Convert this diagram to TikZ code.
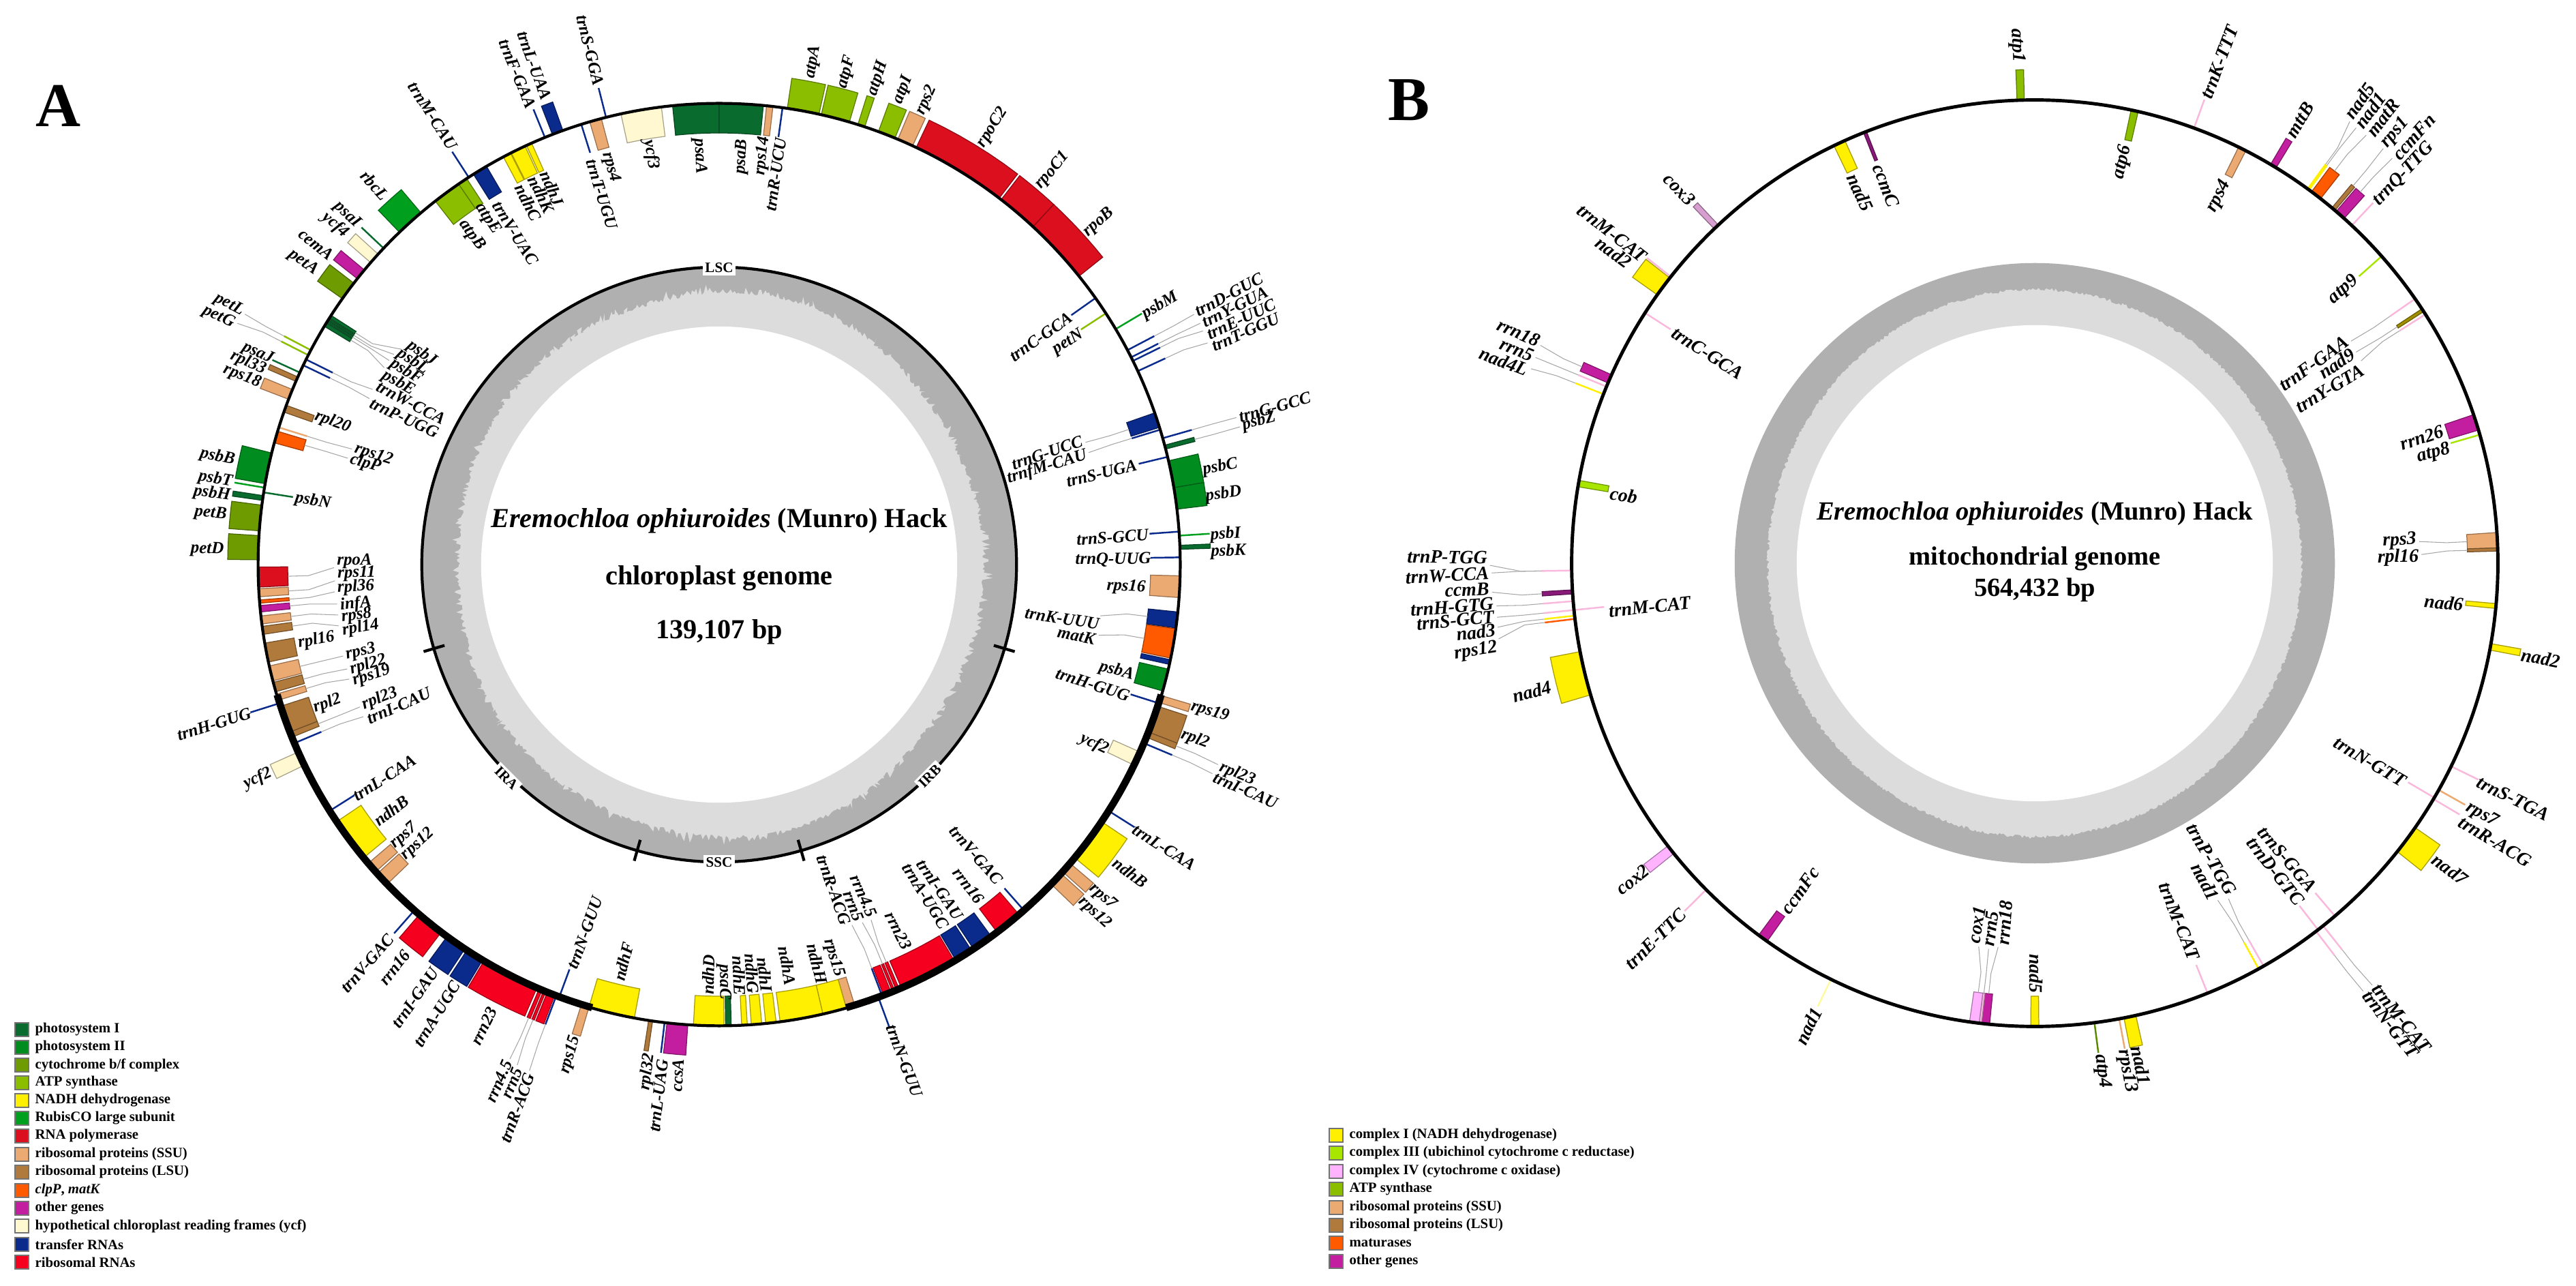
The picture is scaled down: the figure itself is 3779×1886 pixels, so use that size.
\documentclass[tikz,border=0pt]{standalone}
\usepackage{fontspec}
\setmainfont{Liberation Serif}
\definecolor{psone}{HTML}{0A6B2F}
\definecolor{pstwo}{HTML}{008C1E}
\definecolor{cytbf}{HTML}{6E9B00}
\definecolor{atpg}{HTML}{8CBE00}
\definecolor{ndhy}{HTML}{FFEF00}
\definecolor{rubis}{HTML}{00A01E}
\definecolor{rnapol}{HTML}{DB0F1E}
\definecolor{ssu}{HTML}{ECAA73}
\definecolor{lsu}{HTML}{B07A3C}
\definecolor{clpm}{HTML}{FF5A00}
\definecolor{other}{HTML}{C41EA0}
\definecolor{ycfp}{HTML}{FFF8D0}
\definecolor{trna}{HTML}{0A2A8C}
\definecolor{rrna}{HTML}{F5001E}
\definecolor{cplxthree}{HTML}{A8E600}
\definecolor{cplxfour}{HTML}{FFB3FF}
\definecolor{trnb}{HTML}{F9B8DC}
\definecolor{atpdark}{HTML}{5A8A00}
\definecolor{purpleb}{HTML}{8A1A7A}
\definecolor{oliveb}{HTML}{A09000}
\definecolor{coxthree}{HTML}{D79FD0}
\definecolor{paley}{HTML}{FFF9A0}
\definecolor{gcdark}{HTML}{B0B0B0}
\definecolor{gclight}{HTML}{DCDCDC}
\tikzstyle{genebox} = [line width=0.35pt]
\tikzstyle{genebar} = [line width=0.7pt]
\tikzstyle{leader} = [draw=black!35, line width=0.3pt]
\tikzstyle{genelab} = [inner sep=1pt, font=\fontsize{\mapfs}{9}\selectfont\bfseries\itshape]
\tikzstyle{reglab} = [fill=white, inner sep=1pt, font=\fontsize{6}{7}\selectfont\bfseries]
\tikzstyle{title} = [font=\fontsize{\maptf}{13}\selectfont\bfseries]
\tikzstyle{panel} = [font=\fontsize{26}{28}\selectfont\bfseries]
\tikzstyle{legbox} = [draw=black!55, line width=0.5pt, minimum width=0.2cm, minimum height=0.2cm, inner sep=0pt]
\tikzstyle{legtext} = [anchor=west, inner sep=0pt, font=\fontsize{5.9}{7}\selectfont\bfseries]
\tikzstyle{ringm} = [line width=1.2pt, draw=black]
\tikzstyle{ringthick} = [line width=3pt, draw=black]
\tikzstyle{tickm} = [line width=1.2pt, draw=black]
\newcommand{\setmap}[5]{\def\mapx{#1}\def\mapy{#2}\def\mapr{#3}\def\mapfs{#4}\def\maptf{#5}}
\newcommand{\mapcoords}[3]{%
  \pgfmathsetmacro{\gstub}{\mapr+(#3)+30*sign(#3)}%
  \coordinate (b-#1) at ({\mapx+\mapr*sin(#2)},{\mapy-\mapr*cos(#2)});
  \coordinate (g-#1) at ({\mapx+(\mapr+(#3))*sin(#2)},{\mapy-(\mapr+(#3))*cos(#2)});
  \coordinate (s-#1) at ({\mapx+\gstub*sin(#2)},{\mapy-\gstub*cos(#2)});
}
\newcommand{\gene}[5]{%
  \draw[genebox,fill=#5,draw=#5!65!black] plot[domain=#2:#3,samples=7] ({\mapx+\mapr*sin(\x)},{\mapy-\mapr*cos(\x)})
    -- plot[domain=#3:#2,samples=7] ({\mapx+(\mapr+(#4))*sin(\x)},{\mapy-(\mapr+(#4))*cos(\x)}) -- cycle;
  \pgfmathsetmacro{\gmid}{(#2+#3)/2}%
  \mapcoords{#1}{\gmid}{#4}
}
\newcommand{\tbar}[4]{%
  \mapcoords{#1}{#2}{#3}
  \draw[genebar,draw=#4] (b-#1) -- (g-#1);
}
\newcommand{\glab}[4]{%
  \pgfmathsetmacro{\grot}{atan2(\mapy-#3,#2-\mapx)}%
  \pgfmathsetmacro{\grot}{abs(\grot)>90 ? \grot+180 : \grot}%
  \node[genelab,rotate=\grot] (l-#1) at (#2,#3) {#4};
}
\newcommand{\lead}[1]{\draw[leader] (l-#1) -- (s-#1) -- (g-#1);}
\newcommand{\ringarc}[2]{\draw[ringthick] plot[domain=#1:#2,samples=40] ({\mapx+\mapr*sin(\x)},{\mapy-\mapr*cos(\x)});}
\newcommand{\gtick}[1]{\draw[tickm] ({\mapx+420*sin(#1)},{\mapy-420*cos(#1)}) -- ({\mapx+452*sin(#1)},{\mapy-452*cos(#1)});}
\newcommand{\legrow}[5]{%
  \node[legbox,fill=#4] (#1) at (#2,#3) {};
  \node[legtext] (#1t) at ([xshift=0.08cm]#1.east) {#5};
}
\begin{document}
\begin{tikzpicture}[x=0.01cm,y=-0.01cm]
\useasboundingbox (0,0) rectangle (3779,1886);
\pgfmathsetseed{11}

\setmap{1055}{828}{676}{7.1}{11.45}
\fill[gcdark] (\mapx,\mapy) circle[radius=4.36cm];
\fill[gclight] plot[domain=0:360,samples=900] ({\mapx+(390+7*cos(2*\x)+3*sin(5*\x)+16*rnd*rnd)*sin(\x)},{\mapy-(390+7*cos(2*\x)+3*sin(5*\x)+16*rnd*rnd)*cos(\x)}) -- cycle;
\fill[white] (\mapx,\mapy) circle[radius=3.49cm];
\draw[ringm] (\mapx,\mapy) circle[radius=4.36cm];
\gtick{106.4} \gtick{164} \gtick{196} \gtick{253.6}

\node[panel] (panela) at (86,155) {A};
\node[reglab] (lsc) at (1055,393) {LSC};
\node[reglab] (ssc) at (1055,1265) {SSC};
\node[reglab,rotate=-45] (ira) at (743,1141) {IRA};
\node[reglab,rotate=45] (irb) at (1364,1138) {IRB};
\node[title] (atitle) at (1055,764) {\textit{Eremochloa ophiuroides} (Munro) Hack};
\node[title] (atype) at (1055,848) {chloroplast genome};
\node[title] (asize) at (1055,927) {139,107 bp};

\gene{apsaA}{354.2}{360}{-43}{psone}
\gene{apsaB}{0}{5.5}{-43}{psone}
\gene{arps14}{5.9}{6.7}{-43}{ssu}
\tbar{atrnRU}{7.9}{-43}{trna}
\gene{aatpA}{8.5}{12.5}{45}{atpg}
\gene{aatpF}{12.8}{16.4}{45}{atpg}
\gene{aatpH}{17.5}{18.4}{45}{atpg}
\gene{aatpI}{20.2}{22.4}{45}{atpg}
\gene{arps2}{22.8}{24.8}{45}{ssu}
\gene{arpoC2}{25.3}{37.4}{45}{rnapol}
\gene{arpoC1}{37.7}{42.9}{45}{rnapol}
\gene{arpoB}{42.9}{51.3}{45}{rnapol}
\tbar{atrnC}{54.7}{-43}{trna}
\tbar{apetN}{57}{-43}{atpg}
\tbar{apsbM}{59.3}{45}{rubis}
\tbar{atrnD}{62.3}{45}{trna}
\tbar{atrnY}{63.3}{45}{trna}
\tbar{atrnE}{63.8}{45}{trna}
\tbar{atrnT}{65.2}{45}{trna}
\gene{atrnGU}{70.8}{72.7}{-43}{trna}
\tbar{atrnfM}{73}{-43}{trna}
\tbar{atrnGG}{74.1}{45}{trna}
\gene{apsbZ}{75}{75.5}{45}{psone}
\tbar{atrnSU}{76.5}{-43}{trna}
\gene{apsbC}{77}{80.4}{45}{pstwo}
\gene{apsbD}{80.4}{83.1}{45}{pstwo}
\tbar{atrnSG}{85.9}{-43}{trna}
\tbar{apsbI}{86.4}{45}{rubis}
\gene{apsbK}{87.6}{88.1}{45}{psone}
\tbar{atrnQ}{89.1}{-43}{trna}
\gene{arps16}{91.4}{94.1}{-43}{ssu}
\gene{atrnK}{95.9}{97.9}{-43}{trna}
\gene{amatK}{98}{101.7}{-43}{clpm}
\gene{atrnKb}{101.9}{102.5}{-43}{trna}
\gene{apsbA}{103.1}{105.9}{-43}{pstwo}
\tbar{atrnHr}{107.5}{-43}{trna}
\gene{arps19r}{106.5}{107.4}{45}{ssu}
\gene{arpl2r}{107.9}{111.3}{45}{lsu}
\gene{arpl23r}{111.3}{112}{45}{lsu}
\tbar{atrnIr}{112.8}{45}{trna}
\gene{aycf2r}{114}{115.8}{-43}{ycfp}
\tbar{atrnLr}{122.3}{45}{trna}
\gene{andhBr}{123.9}{129.5}{45}{ndhy}
\gene{arps7r}{130.4}{131.8}{45}{ssu}
\gene{arps12r}{132.1}{133.9}{45}{ssu}
\tbar{atrnVr}{138.6}{-43}{trna}
\gene{arrn16r}{139.4}{142.9}{-43}{rrna}
\gene{atrnGAr}{143.8}{146.5}{-43}{trna}
\gene{atrnAr}{146.8}{149.1}{-43}{trna}
\gene{arrn23r}{149.3}{156.7}{-43}{rrna}
\gene{arrn45r}{157}{157.4}{-43}{rrna}
\gene{arrn5r}{157.6}{157.9}{-43}{rrna}
\gene{arrnxr}{158.1}{159.1}{-43}{rrna}
\tbar{atrnRr}{159.3}{-43}{trna}
\tbar{atrnNr}{159.8}{48}{trna}
\gene{arps15r}{162.9}{164}{-43}{ssu}
\gene{andhH}{164}{167}{-43}{ndhy}
\gene{andhA}{167}{172.4}{-43}{ndhy}
\gene{andhI}{172.9}{174.2}{-43}{ndhy}
\gene{andhG}{174.7}{176}{-43}{ndhy}
\gene{andhE}{176.5}{177.2}{-43}{ndhy}
\gene{apsaC}{178.5}{179.2}{-43}{psone}
\gene{andhD}{179.4}{183.2}{-43}{ndhy}
\gene{accsA}{183.9}{186.5}{45}{other}
\tbar{atrnLU}{186.8}{45}{trna}
\gene{arpl32}{188.3}{188.8}{45}{lsu}
\gene{andhF}{190.6}{196.4}{-43}{ndhy}
\gene{arps15l}{196.4}{197.4}{45}{ssu}
\tbar{atrnNl}{200.3}{-43}{trna}
\tbar{atrnRl}{200.7}{45}{trna}
\gene{arrnxl}{200.9}{201.9}{45}{rrna}
\gene{arrn5l}{202.1}{202.4}{45}{rrna}
\gene{arrn45l}{202.6}{203}{45}{rrna}
\gene{arrn23l}{203.3}{210.7}{45}{rrna}
\gene{atrnAl}{210.9}{213.2}{45}{trna}
\gene{atrnGAl}{213.5}{216.2}{45}{trna}
\gene{arrn16l}{217.1}{220.6}{45}{rrna}
\tbar{atrnVl}{221.4}{45}{trna}
\gene{arps12l}{226.1}{227.9}{-43}{ssu}
\gene{arps7l}{228.2}{229.6}{-43}{ssu}
\gene{andhBl}{230.5}{236.1}{-43}{ndhy}
\tbar{atrnLl}{237.7}{-43}{trna}
\gene{aycf2l}{244.2}{246}{45}{ycfp}
\tbar{atrnIl}{247.2}{-43}{trna}
\gene{arpl23l}{248}{248.7}{-43}{lsu}
\gene{arpl2l}{248.7}{252.1}{-43}{lsu}
\tbar{atrnHl}{252.5}{45}{trna}
\gene{arps19l}{252.9}{253.7}{-43}{ssu}
\gene{arpl22}{254}{255.2}{-43}{lsu}
\gene{arps3}{255.4}{257.3}{-43}{ssu}
\gene{arpl16}{257.8}{260.2}{-43}{lsu}
\gene{arpl14}{261.3}{262.3}{-43}{lsu}
\gene{arps8}{262.6}{263.6}{-43}{ssu}
\gene{ainfA}{264.1}{264.9}{-43}{other}
\gene{arpl36}{265.2}{265.6}{-43}{clpm}
\gene{arps11}{266}{267}{-43}{ssu}
\gene{arpoA}{267.2}{269.7}{-43}{rnapol}
\gene{apetD}{270.6}{273.6}{45}{cytbf}
\gene{apetB}{274.2}{277.4}{45}{cytbf}
\gene{apsbH}{278}{278.6}{45}{psone}
\tbar{apsbN}{279}{-43}{psone}
\tbar{apsbT}{279.6}{45}{rubis}
\gene{apsbB}{280.1}{284}{45}{pstwo}
\gene{aclpP}{285.3}{286.8}{-43}{clpm}
\tbar{arps12b}{287.3}{-43}{ssu}
\gene{arpl20}{289.3}{290.2}{-43}{lsu}
\gene{arps18}{291}{292.3}{45}{ssu}
\gene{arpl33}{293.4}{294}{45}{lsu}
\tbar{apsaJ}{294.6}{45}{psone}
\tbar{atrnP}{295.6}{-43}{trna}
\tbar{atrnW}{296.4}{-43}{trna}
\tbar{apetG}{297}{45}{atpg}
\tbar{apetL}{297.7}{45}{atpg}
\gene{apsbE}{301.1}{301.6}{-43}{psone}
\gene{apsbF}{301.7}{301.9}{-43}{psone}
\gene{apsbL}{302}{302.2}{-43}{psone}
\gene{apsbJ}{302.3}{302.7}{-43}{psone}
\gene{apetA}{305.2}{307.6}{45}{cytbf}
\gene{acemA}{308.3}{309.7}{45}{other}
\gene{aycf4}{310.9}{312.3}{45}{ycfp}
\tbar{apsaI}{313.3}{45}{psone}
\gene{arbcL}{316.1}{319.7}{45}{rubis}
\gene{aatpB}{322}{325.6}{-43}{atpg}
\gene{aatpE}{325.6}{326.8}{-43}{atpg}
\tbar{atrnMC}{327.1}{45}{trna}
\gene{atrnVU}{327.8}{329.7}{-43}{trna}
\gene{andhC}{332.1}{333.1}{-43}{ndhy}
\gene{andhK}{333.2}{335.1}{-43}{ndhy}
\gene{andhJ}{335.3}{336}{-43}{ndhy}
\tbar{atrnFG}{337.8}{45}{trna}
\gene{atrnLA}{338.8}{340.2}{45}{trna}
\tbar{atrnTU}{342.6}{-43}{trna}
\gene{arps4}{343.7}{345.2}{-43}{ssu}
\tbar{atrnSGG}{345.8}{45}{trna}
\gene{aycf3}{347.7}{352.8}{-43}{ycfp}
\draw[ringm] (\mapx,\mapy) circle[radius=6.76cm];
\ringarc{106.4}{164} \ringarc{196}{253.6}

\glab{apsaA}{1026}{229}{psaA}
\glab{apsaB}{1088}{230}{psaB}
\glab{arps14}{1119}{229}{rps14}
\glab{atrnRU}{1138}{256}{trnR-UCU}
\glab{aatpA}{1193}{91}{atpA}
\glab{aatpF}{1242}{106}{atpF}
\glab{aatpH}{1288}{115}{atpH}
\glab{aatpI}{1325}{132}{atpI}
\glab{arps2}{1359}{147}{rps2}
\glab{arpoC2}{1456}{187}{rpoC2}
\glab{arpoC1}{1544}{250}{rpoC1}
\glab{arpoB}{1612}{326}{rpoB}
\glab{atrnC}{1527}{494}{trnC-GCA}
\glab{apetN}{1567}{502}{petN}
\glab{apsbM}{1702}{448}{psbM}
\glab{atrnD}{1803}{432}{trnD-GUC}
\glab{atrnY}{1812}{450}{trnY-GUA}
\glab{atrnE}{1821}{468}{trnE-UUC}
\glab{atrnT}{1827}{487}{trnT-GGU}
\lead{atrnD} \lead{atrnY} \lead{atrnE} \lead{atrnT}
\glab{atrnGU}{1536}{664}{trnG-UCC}
\glab{atrnfM}{1536}{685}{trnfM-CAU}
\lead{atrnGU} \lead{atrnfM}
\glab{atrnSU}{1616}{694}{trnS-UGA}
\glab{atrnGG}{1870}{597}{trnG-GCC}
\glab{apsbZ}{1847}{618}{psbZ}
\lead{atrnGG} \lead{apsbZ}
\glab{apsbC}{1790}{685}{psbC}
\glab{apsbD}{1795}{725}{psbD}
\glab{atrnSG}{1632}{788}{trnS-GCU}
\glab{apsbI}{1798}{784}{psbI}
\glab{apsbK}{1802}{809}{psbK}
\glab{atrnQ}{1633}{821}{trnQ-UUG}
\glab{arps16}{1652}{861}{rps16}
\glab{atrnK}{1558}{907}{trnK-UUU}
\glab{amatK}{1579}{932}{matK}
\lead{atrnK} \lead{amatK}
\glab{apsbA}{1638}{984}{psbA}
\glab{atrnHr}{1603}{1004}{trnH-GUG}
\glab{arps19r}{1775}{1044}{rps19}
\glab{arpl2r}{1753}{1084}{rpl2}
\glab{aycf2r}{1605}{1091}{ycf2}
\glab{arpl23r}{1815}{1135}{rpl23}
\glab{atrnIr}{1827}{1159}{trnI-CAU}
\lead{arpl23r} \lead{atrnIr}
\glab{atrnLr}{1708}{1243}{trnL-CAA}
\glab{andhBr}{1658}{1280}{ndhB}
\glab{arps7r}{1618}{1315}{rps7}
\glab{arps12r}{1606}{1339}{rps12}
\glab{atrnVr}{1432}{1254}{trnV-GAC}
\glab{arrn16r}{1421}{1299}{rrn16}
\glab{atrnGAr}{1379}{1305}{trnI-GAU}
\glab{atrnAr}{1358}{1314}{trnA-UGC}
\glab{arrn23r}{1318}{1365}{rrn23}
\glab{arrn45r}{1267}{1314}{rrn4.5}
\glab{arrn5r}{1252}{1329}{rrn5}
\glab{atrnRr}{1223}{1305}{trnR-ACG}
\lead{arrn45r} \lead{arrn5r} \lead{atrnRr}
\glab{atrnNr}{1327}{1556}{trnN-GUU}
\glab{arps15r}{1223}{1405}{rps15}
\glab{andhH}{1199}{1413}{ndhH}
\glab{andhA}{1155}{1416}{ndhA}
\glab{andhI}{1122}{1429}{ndhI}
\glab{andhG}{1103}{1428}{ndhG}
\glab{andhE}{1084}{1431}{ndhE}
\glab{apsaC}{1062}{1440}{psaC}
\glab{andhD}{1039}{1429}{ndhD}
\glab{accsA}{994}{1577}{ccsA}
\glab{atrnLU}{966}{1607}{trnL-UAG}
\glab{arpl32}{950}{1572}{rpl32}
\glab{andhF}{915}{1410}{ndhF}
\glab{arps15l}{837}{1547}{rps15}
\glab{atrnNl}{858}{1368}{trnN-GUU}
\glab{atrnRl}{759}{1625}{trnR-ACG}
\glab{arrn5l}{751}{1588}{rrn5}
\glab{arrn45l}{732}{1586}{rrn4.5}
\lead{atrnRl} \lead{arrn5l} \lead{arrn45l}
\glab{arrn23l}{710}{1505}{rrn23}
\glab{atrnAl}{641}{1487}{trnA-UGC}
\glab{atrnGAl}{609}{1463}{trnI-GAU}
\glab{arrn16l}{579}{1419}{rrn16}
\glab{atrnVl}{539}{1413}{trnV-GAC}
\glab{arps12l}{613}{1238}{rps12}
\glab{arps7l}{593}{1226}{rps7}
\glab{andhBl}{574}{1189}{ndhB}
\glab{atrnLl}{564}{1141}{trnL-CAA}
\glab{aycf2l}{378}{1142}{ycf2}
\glab{atrnIl}{585}{1035}{trnI-CAU}
\glab{arpl23l}{557}{1025}{rpl23}
\lead{atrnIl} \lead{arpl23l}
\glab{arpl2l}{480}{1032}{rpl2}
\glab{atrnHl}{314}{1062}{trnH-GUG}
\glab{arps19l}{545}{991}{rps19}
\glab{arpl22}{540}{975}{rpl22}
\glab{arps3}{529}{956}{rps3}
\lead{arps19l} \lead{arpl22} \lead{arps3}
\glab{arpl16}{464}{939}{rpl16}
\glab{arpl14}{529}{921}{rpl14}
\glab{arps8}{523}{903}{rps8}
\glab{ainfA}{522}{886}{infA}
\glab{arpl36}{522}{861}{rpl36}
\glab{arps11}{523}{841}{rps11}
\glab{arpoA}{520}{823}{rpoA}
\lead{arpl14} \lead{arps8} \lead{ainfA} \lead{arpl36} \lead{arps11} \lead{arpoA}
\glab{apetD}{304}{806}{petD}
\glab{apetB}{309}{753}{petB}
\glab{apsbH}{311}{724}{psbH}
\glab{apsbN}{459}{735}{psbN}
\glab{apsbT}{316}{703}{psbT}
\glab{apsbB}{319}{670}{psbB}
\glab{aclpP}{536}{680}{clpP}
\glab{arps12b}{548}{667}{rps12}
\lead{aclpP} \lead{arps12b}
\glab{arpl20}{488}{619}{rpl20}
\glab{arps18}{355}{552}{rps18}
\glab{arpl33}{364}{532}{rpl33}
\glab{apsaJ}{378}{518}{psaJ}
\glab{atrnP}{593}{613}{trnP-UGG}
\glab{atrnW}{603}{591}{trnW-CCA}
\lead{atrnP} \lead{atrnW}
\glab{apetG}{321}{465}{petG}
\glab{apetL}{336}{447}{petL}
\lead{apetG} \lead{apetL}
\glab{apsbE}{585}{562}{psbE}
\glab{apsbF}{596}{545}{psbF}
\glab{apsbL}{606}{530}{psbL}
\glab{apsbJ}{619}{518}{psbJ}
\lead{apsbE} \lead{apsbF} \lead{apsbL} \lead{apsbJ}
\glab{apetA}{445}{385}{petA}
\glab{acemA}{464}{358}{cemA}
\glab{aycf4}{492}{330}{ycf4}
\glab{apsaI}{509}{315}{psaI}
\glab{arbcL}{550}{272}{rbcL}
\glab{aatpB}{692}{345}{atpB}
\glab{aatpE}{716}{321}{atpE}
\glab{atrnMC}{635}{170}{trnM-CAU}
\glab{atrnVU}{756}{342}{trnV-UAC}
\glab{andhC}{775}{297}{ndhC}
\glab{andhK}{794}{285}{ndhK}
\glab{andhJ}{810}{276}{ndhJ}
\glab{atrnFG}{759}{108}{trnF-GAA}
\glab{atrnLA}{784}{96}{trnL-UAA}
\glab{atrnTU}{883}{285}{trnT-UGU}
\glab{arps4}{896}{245}{rps4}
\glab{atrnSGG}{866}{74}{trnS-GGA}
\glab{aycf3}{955}{227}{ycf3}

\legrow{la1}{32}{1510}{psone}{photosystem I}
\legrow{la2}{32}{1536}{pstwo}{photosystem II}
\legrow{la3}{32}{1562}{cytbf}{cytochrome b/f complex}
\legrow{la4}{32}{1588}{atpg}{ATP synthase}
\legrow{la5}{32}{1614}{ndhy}{NADH dehydrogenase}
\legrow{la6}{32}{1640}{rubis}{RubisCO large subunit}
\legrow{la7}{32}{1666}{rnapol}{RNA polymerase}
\legrow{la8}{32}{1693}{ssu}{ribosomal proteins (SSU)}
\legrow{la9}{32}{1719}{lsu}{ribosomal proteins (LSU)}
\legrow{la10}{32}{1746}{clpm}{\textit{clpP}, \textit{matK}}
\legrow{la11}{32}{1772}{other}{other genes}
\legrow{la12}{32}{1798}{ycfp}{hypothetical chloroplast reading frames (ycf)}
\legrow{la13}{32}{1825}{trna}{transfer RNAs}
\legrow{la14}{32}{1851}{rrna}{ribosomal RNAs}

\setmap{2985}{826}{679}{7.9}{10.95}
\fill[gcdark] (\mapx,\mapy) circle[radius=4.40cm];
\fill[gclight] plot[domain=0:360,samples=900] ({\mapx+(394+5*cos(2*\x)+5*rnd)*sin(\x)},{\mapy-(394+5*cos(2*\x)+5*rnd)*cos(\x)}) -- cycle;
\fill[white] (\mapx,\mapy) circle[radius=3.49cm];

\node[panel] (panelb) at (2067,147) {B};
\node[title] (btitle) at (2985,753) {\textit{Eremochloa ophiuroides} (Munro) Hack};
\node[title] (btype) at (2985,819) {mitochondrial genome};
\node[title] (bsize) at (2985,865) {564,432 bp};

\gene{batpone}{357.8}{358.7}{45}{atpg}
\gene{batp6}{12}{12.9}{-44}{atpg}
\tbar{btrnK}{20.1}{45}{trnb}
\gene{brps4}{26.1}{27.1}{-44}{ssu}
\gene{bmttB}{30.6}{31.4}{45}{other}
\tbar{bnad5t}{36.1}{45}{ndhy}
\tbar{bnad1t}{36.3}{45}{ndhy}
\gene{bmatR}{36.7}{38.1}{45}{clpm}
\gene{brps1}{39.9}{40.4}{45}{lsu}
\gene{bccmFn}{40.6}{41.9}{45}{other}
\tbar{btrnQ}{43.2}{46}{trnb}
\tbar{batp9}{48.5}{-44}{cplxthree}
\tbar{btrnF}{55.2}{-44}{trnb}
\gene{bnad9}{56.7}{57.1}{-44}{oliveb}
\tbar{btrnY}{57.5}{-44}{trnb}
\gene{brrn26}{71.3}{73.3}{-44}{other}
\tbar{batp8}{73.9}{-44}{cplxthree}
\gene{brps3}{86.2}{88.1}{-44}{ssu}
\gene{brpl16}{88.1}{88.5}{-44}{lsu}
\gene{bnad6}{95}{95.6}{-44}{ndhy}
\gene{bnad2r}{100}{100.8}{45}{ndhy}
\tbar{btrnST}{116}{45}{trnb}
\tbar{brps7}{119.3}{45}{ssu}
\tbar{btrnR}{120.6}{45}{trnb}
\tbar{btrnNi}{120.4}{-44}{trnb}
\gene{bnad7}{124.8}{128.5}{45}{ndhy}
\tbar{btrnSG}{139.6}{-44}{trnb}
\tbar{btrnMo}{141.5}{45}{trnb}
\tbar{btrnD}{142.3}{-44}{trnb}
\tbar{btrnNo}{142.6}{45}{trnb}
\tbar{btrnPi}{150.4}{-44}{trnb}
\tbar{bnad1i}{151.1}{-44}{ndhy}
\tbar{btrnMi}{158.1}{-44}{trnb}
\gene{bnad1o}{167.4}{168.9}{45}{ndhy}
\tbar{brps13}{169.5}{45}{ssu}
\tbar{batp4}{172.6}{45}{atpdark}
\gene{bnad5i}{179.5}{180.5}{-44}{ndhy}
\gene{brrn18b}{185.6}{186.6}{-44}{other}
\gene{brrn5b}{186.6}{186.9}{-44}{trnb}
\gene{bcox1}{186.9}{188.1}{-44}{cplxfour}
\tbar{bnad1p}{206.1}{45}{paley}
\gene{bccmFc}{215.3}{216.6}{-44}{other}
\tbar{btrnE}{225.2}{45}{trnb}
\gene{bcox2}{231.2}{232.4}{45}{cplxfour}
\gene{bnad4}{253.5}{259}{45}{ndhy}
\tbar{brps12}{263.1}{45}{clpm}
\tbar{bnad3}{263.5}{45}{ndhy}
\tbar{btrnSC}{264.2}{45}{trnb}
\tbar{btrnMn}{264.2}{-44}{trnb}
\tbar{btrnH}{265.3}{45}{trnb}
\gene{bccmB}{266.2}{266.7}{45}{purpleb}
\tbar{btrnP}{269.1}{45}{trnb}
\gene{bcob}{279.5}{280.3}{-44}{cplxthree}
\tbar{bnad4L}{291.4}{45}{ndhy}
\tbar{brrn5}{292.4}{45}{trnb}
\gene{brrn18}{292.9}{294}{45}{other}
\tbar{btrnC}{302.7}{-44}{trnb}
\gene{bnad2}{305.4}{308}{45}{ndhy}
\tbar{btrnMC}{308.2}{45}{trnb}
\gene{bcox3}{316.2}{316.9}{45}{coxthree}
\gene{bnad5}{334.3}{335.8}{-44}{ndhy}
\gene{bccmC}{338.3}{338.7}{-44}{purpleb}
\draw[ringm,line width=1.4pt] (\mapx,\mapy) circle[radius=6.79cm];

\glab{batpone}{2959}{67}{atp1}
\glab{batp6}{3114}{238}{atp6}
\glab{btrnK}{3256}{91}{trnK-TTT}
\glab{brps4}{3255}{288}{rps4}
\glab{bmttB}{3374}{176}{mttB}
\glab{bnad5t}{3461}{148}{nad5}
\glab{bnad1t}{3477}{162}{nad1}
\glab{bmatR}{3496}{173}{matR}
\glab{brps1}{3514}{195}{rps1}
\glab{bccmFn}{3541}{201}{ccmFn}
\lead{bnad5t} \lead{bnad1t} \lead{bmatR} \lead{brps1} \lead{bccmFn}
\glab{btrnQ}{3526}{255}{trnQ-TTG}
\glab{batp9}{3438}{425}{atp9}
\glab{btrnF}{3394}{533}{trnF-GAA}
\glab{bnad9}{3428}{533}{nad9}
\glab{btrnY}{3418}{570}{trnY-GTA}
\lead{btrnF} \lead{bnad9} \lead{btrnY}
\glab{brrn26}{3553}{642}{rrn26}
\glab{batp8}{3570}{665}{atp8}
\glab{brps3}{3520}{793}{rps3}
\glab{brpl16}{3518}{818}{rpl16}
\lead{brps3} \lead{brpl16}
\glab{bnad6}{3585}{884}{nad6}
\glab{bnad2r}{3727}{965}{nad2}
\glab{btrnST}{3687}{1171}{trnS-TGA}
\glab{brps7}{3641}{1195}{rps7}
\glab{btrnR}{3660}{1234}{trnR-ACG}
\glab{btrnNi}{3477}{1117}{trnN-GTT}
\glab{bnad7}{3594}{1275}{nad7}
\glab{btrnSG}{3355}{1260}{trnS-GGA}
\glab{btrnD}{3338}{1278}{trnD-GTC}
\glab{btrnMo}{3523}{1493}{trnM-CAT}
\glab{btrnNo}{3507}{1502}{trnN-GTT}
\lead{btrnMo} \lead{btrnNo}
\glab{btrnPi}{3244}{1260}{trnP-TGG}
\glab{bnad1i}{3235}{1293}{nad1}
\lead{btrnPi} \lead{bnad1i}
\glab{btrnMi}{3197}{1351}{trnM-CAT}
\glab{bnad1o}{3141}{1562}{nad1}
\glab{brps13}{3120}{1571}{rps13}
\glab{batp4}{3084}{1571}{atp4}
\glab{bnad5i}{2987}{1428}{nad5}
\glab{brrn18b}{2941}{1353}{rrn18}
\glab{brrn5b}{2920}{1362}{rrn5}
\glab{bcox1}{2900}{1356}{cox1}
\lead{brrn18b} \lead{brrn5b} \lead{bcox1}
\glab{bnad1p}{2653}{1505}{nad1}
\glab{bccmFc}{2641}{1306}{ccmFc}
\glab{btrnE}{2429}{1377}{trnE-TTC}
\glab{bcox2}{2395}{1290}{cox2}
\glab{bnad4}{2247}{1014}{nad4}
\glab{brps12}{2165}{955}{rps12}
\glab{bnad3}{2165}{927}{nad3}
\glab{btrnSC}{2135}{910}{trnS-GCT}
\glab{btrnH}{2130}{890}{trnH-GTG}
\glab{bccmB}{2152}{865}{ccmB}
\glab{btrnP}{2123}{817}{trnP-TGG}
\node[genelab,rotate=3] (l-btrnW) at (2123,844) {trnW-CCA};
\draw[leader] (l-btrnW) -- (s-btrnP) -- (g-btrnP);
\lead{brps12} \lead{bnad3} \lead{btrnSC} \lead{btrnH} \lead{bccmB} \lead{btrnP}
\glab{btrnMn}{2420}{890}{trnM-CAT}
\glab{bcob}{2382}{726}{cob}
\glab{bnad4L}{2206}{530}{nad4L}
\glab{brrn5}{2225}{513}{rrn5}
\glab{brrn18}{2228}{488}{rrn18}
\lead{bnad4L} \lead{brrn5} \lead{brrn18}
\glab{btrnC}{2505}{518}{trnC-GCA}
\glab{bnad2}{2367}{370}{nad2}
\glab{btrnMC}{2365}{342}{trnM-CAT}
\glab{bcox3}{2464}{278}{cox3}
\glab{bnad5}{2729}{282}{nad5}
\glab{bccmC}{2767}{272}{ccmC}

\legrow{lb1}{1960}{1665}{ndhy}{complex I (NADH dehydrogenase)}
\legrow{lb2}{1960}{1691}{cplxthree}{complex III (ubichinol cytochrome c reductase)}
\legrow{lb3}{1960}{1718}{cplxfour}{complex IV (cytochrome c oxidase)}
\legrow{lb4}{1960}{1744}{atpg}{ATP synthase}
\legrow{lb5}{1960}{1771}{ssu}{ribosomal proteins (SSU)}
\legrow{lb6}{1960}{1797}{lsu}{ribosomal proteins (LSU)}
\legrow{lb7}{1960}{1823}{clpm}{maturases}
\legrow{lb8}{1960}{1850}{other}{other genes}
\end{tikzpicture}
\end{document}
